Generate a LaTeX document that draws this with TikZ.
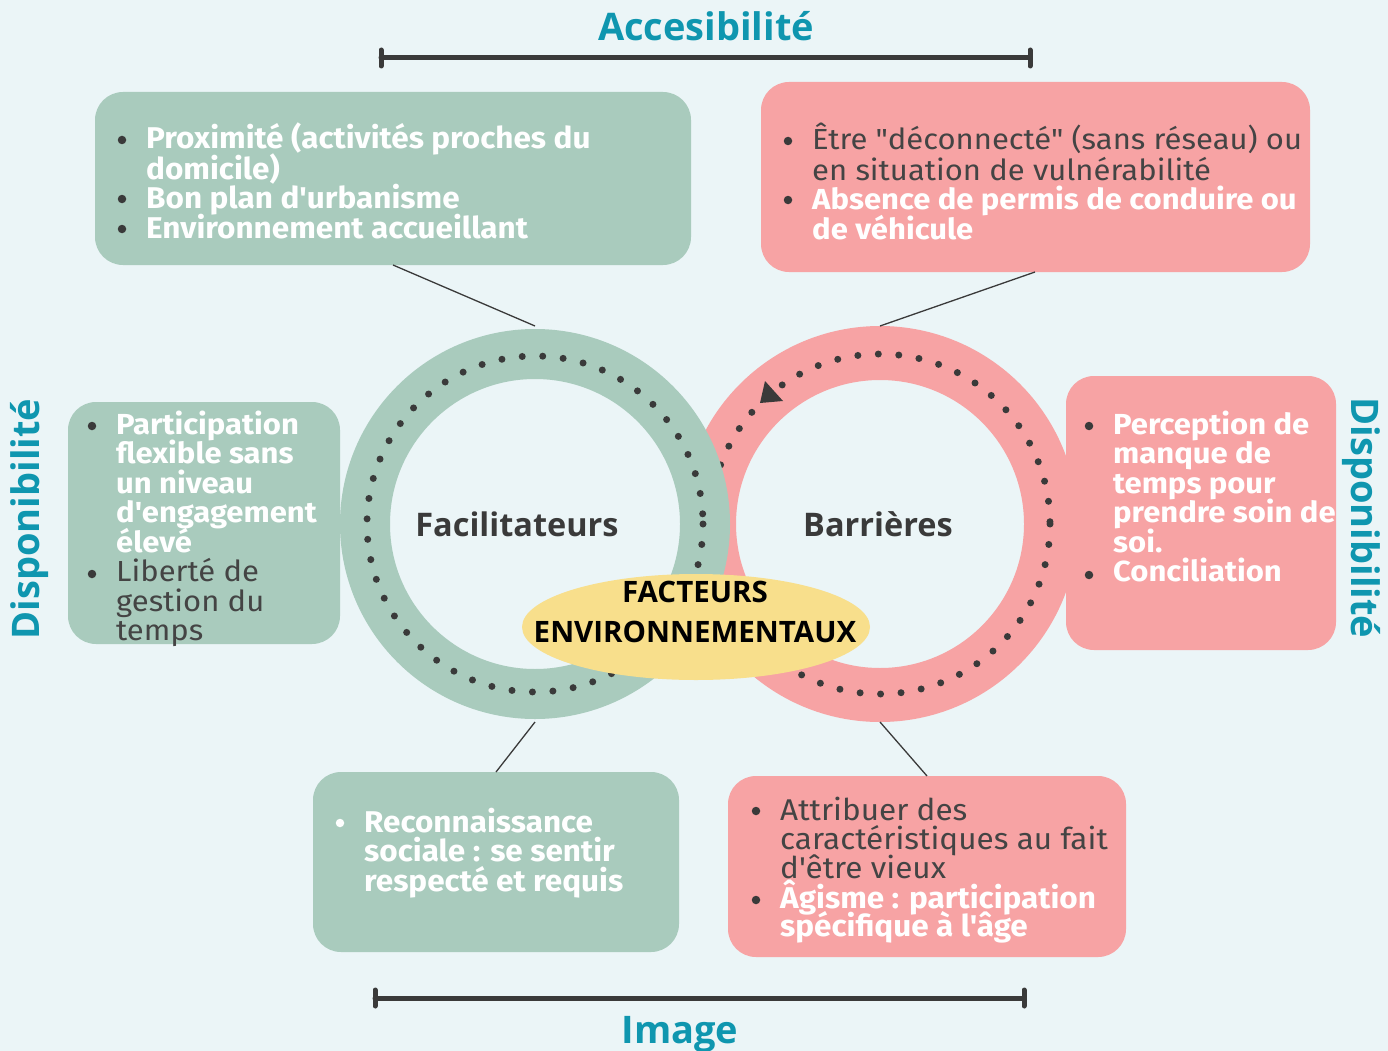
\documentclass[tikz,border=0pt]{standalone}
\usepackage{fontspec}
\setmainfont{Fira Sans}
\newfontfamily\boxfont[FakeStretch=1.07]{Fira Sans}
\newfontfamily\boxcond[FakeStretch=1.05]{Fira Sans}
\newfontfamily\titlefont{Open Sans}
\newfontfamily\osans{Open Sans}
\usetikzlibrary{shapes.geometric}
\definecolor{bg}{HTML}{EBF5F7}
\definecolor{grn}{HTML}{A9CBBD}
\definecolor{pnk}{HTML}{F7A3A4}
\definecolor{teal}{HTML}{0F96AF}
\definecolor{ylw}{HTML}{F8DF8C}
\definecolor{dark}{HTML}{3A3A3A}
\definecolor{txt}{HTML}{444444}
\tikzset{
  gbox/.style={fill=grn, rounded corners=28},
  pbox/.style={fill=pnk, rounded corners=28},
  ln/.style={anchor=base west, inner sep=0, font=\boxfont\fontsize{29}{30}\selectfont},
  lnb/.style={ln, font=\boxfont\bfseries\fontsize{29}{30}\selectfont, text=white},
  lnr/.style={ln, text=txt},
  cnb/.style={anchor=base west, inner sep=0, font=\boxcond\bfseries\fontsize{30}{30}\selectfont, text=white},
  cnr/.style={anchor=base west, inner sep=0, font=\boxcond\fontsize{30}{30}\selectfont, text=txt},
  bul/.style={circle, fill=dark, inner sep=0, minimum size=8.5},
  conn/.style={draw=dark, line width=1.3},
  bar/.style={draw=dark, line width=5, line cap=round},
  title/.style={font=\titlefont\bfseries\fontsize{38}{40}\selectfont, text=teal, inner sep=0},
  dots/.style={draw=dark, line width=7, line cap=round, dash pattern=on 0pt off 20.5pt},
  midtxt/.style={font=\osans\bfseries\fontsize{32.5}{34}\selectfont, text=dark, anchor=base},
  envtxt/.style={font=\osans\bfseries\fontsize{29.5}{30}\selectfont, text=black, anchor=base},
}
\begin{document}
\begin{tikzpicture}[x=1pt, y=-1pt]
\useasboundingbox (0,0) rectangle (1388,1051);
\fill[bg] (0,0) rectangle (1388,1051);

% titles and bars
\node[title, anchor=base] (acc) at (706,41) {Accesibilité};
\coordinate (a1) at (381,58); \coordinate (a2) at (1030,58);
\draw[bar] (a1) -- (a2);
\draw[bar] ([yshift=-8]a1) -- ([yshift=8]a1);
\draw[bar] ([yshift=-8]a2) -- ([yshift=8]a2);
\node[title, anchor=base] (img) at (680,1043) {Image};
\coordinate (b1) at (375,998); \coordinate (b2) at (1024,998);
\draw[bar] (b1) -- (b2);
\draw[bar] ([yshift=-8]b1) -- ([yshift=8]b1);
\draw[bar] ([yshift=-8]b2) -- ([yshift=8]b2);
\node[title, rotate=90] (dl) at (30,519) {Disponibilité};
\node[title, rotate=-90] (dr) at (1361,518) {Disponibilité};

% rings
\coordinate (cg) at (535,524);
\coordinate (cp) at (880,524);
\draw[pnk, line width=54] (cp) circle (171);
\draw[dots] (cp) circle (170);
\fill[dark] (760,403) -- (765,381) -- (783,401) -- cycle;
\draw[grn, line width=50] (cg) circle (170);
\draw[dots] (cg) circle (168);
\node[midtxt] (fac) at (517,536) {Facilitateurs};
\node[midtxt] (bar) at (878,536) {Barrières};
\node[ellipse, fill=ylw, minimum width=348, minimum height=106, inner sep=0] (env) at (696,627) {};
\node[envtxt] (env1) at (695,602) {FACTEURS};
\node[envtxt] (env2) at (695,642) {ENVIRONNEMENTAUX};

% anchors on rings
\coordinate (gt) at (535,326);
\coordinate (gb) at (535,722);
\coordinate (pt) at (880,326);
\coordinate (pb) at (880,722);

% top-left box
\fill[gbox] (95,92) rectangle (691,265);
\coordinate (tl) at (393,265);
\draw[conn] (tl) -- (gt);
\node[bul] (tlb1) at (122,140) {};
\node[bul] (tlb2) at (122,199) {};
\node[bul] (tlb3) at (122,229) {};
\node[cnb] (tl1) at (146,149) {Proximité (activités proches du};
\node[cnb] (tl2) at (146,179) {domicile)};
\node[cnb] (tl3) at (146,208) {Bon plan d'urbanisme};
\node[cnb] (tl4) at (146,238) {Environnement accueillant};

% top-right box
\fill[pbox] (761,82) rectangle (1310,272);
\coordinate (tr) at (1035,272);
\draw[conn] (tr) -- (pt);
\node[bul] (trb1) at (788,141) {};
\node[bul] (trb2) at (788,200) {};
\node[lnr] (tr1) at (812,150) {Être "déconnecté" (sans réseau) ou};
\node[lnr] (tr2) at (812,180) {en situation de vulnérabilité};
\node[lnb] (tr3) at (812,209) {Absence de permis de conduire ou};
\node[lnb] (tr4) at (812,239) {de véhicule};

% left box
\fill[gbox] (68,402) rectangle (340,644);
\node[bul] (lb1) at (92,426) {};
\node[bul] (lb2) at (92,574) {};
\node[lnb] (l1) at (116,434) {Participation};
\node[lnb] (l2) at (116,463.5) {flexible sans};
\node[lnb] (l3) at (116,493) {un niveau};
\node[lnb] (l4) at (116,522.5) {d'engagement};
\node[lnb] (l5) at (116,552) {élevé};
\node[lnr] (l6) at (116,581.5) {Liberté de};
\node[lnr] (l7) at (116,611) {gestion du};
\node[lnr] (l8) at (116,640.5) {temps};

% right box
\fill[pbox] (1066,376) rectangle (1336,650);
\node[bul] (rb1) at (1089,426) {};
\node[bul] (rb2) at (1089,575) {};
\node[lnb] (r1) at (1113,434) {Perception de};
\node[lnb] (r2) at (1113,463.5) {manque de};
\node[lnb] (r3) at (1113,493) {temps pour};
\node[lnb] (r4) at (1113,522.5) {prendre soin de};
\node[lnb] (r5) at (1113,552) {soi.};
\node[lnb] (r6) at (1113,581.5) {Conciliation};

% bottom-left box
\fill[gbox] (313,772) rectangle (679,952);
\coordinate (bl) at (496,772);
\draw[conn] (gb) -- (bl);
\node[bul, fill=white] (blb1) at (340,823) {};
\node[cnb] (bl1) at (364,832) {Reconnaissance};
\node[cnb] (bl2) at (364,861) {sociale : se sentir};
\node[cnb] (bl3) at (364,891) {respecté et requis};

% bottom-right box
\fill[pbox] (728,776) rectangle (1126,957);
\coordinate (br) at (927,776);
\draw[conn] (pb) -- (br);
\node[bul] (brb1) at (756,811) {};
\node[bul] (brb2) at (756,900) {};
\node[cnr] (br1) at (780,820) {Attribuer des};
\node[cnr] (br2) at (780,849) {caractéristiques au fait};
\node[cnr] (br3) at (780,878) {d'être vieux};
\node[cnb] (br4) at (780,908) {Âgisme : participation};
\node[cnb] (br5) at (780,936) {spécifique à l'âge};
\end{tikzpicture}
\end{document}
